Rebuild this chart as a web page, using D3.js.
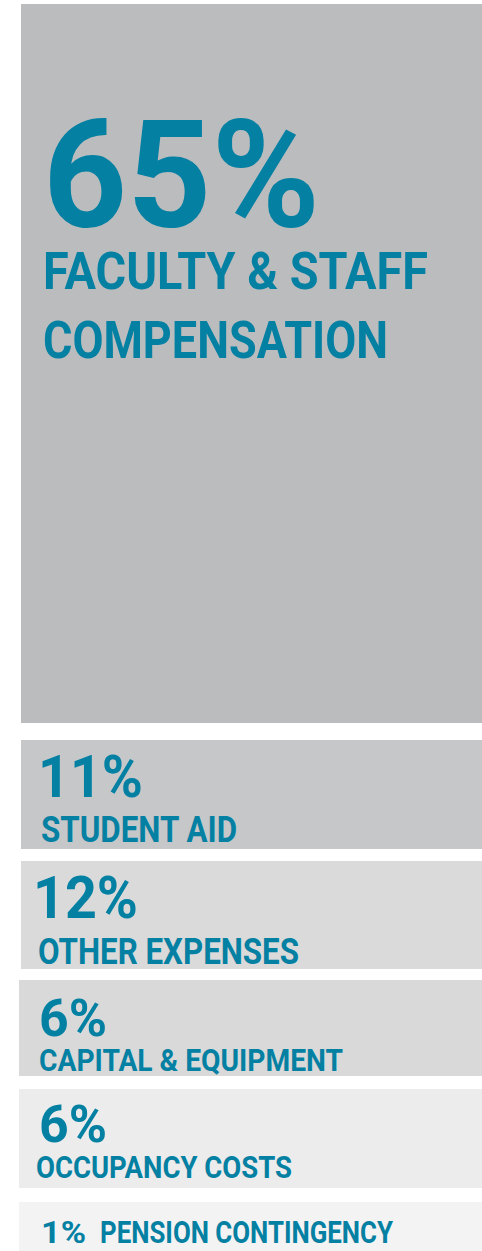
<!DOCTYPE html>
<html><head><meta charset="utf-8">
<script src="https://cdn.jsdelivr.net/npm/d3@7"></script>
<style>html,body{margin:0;padding:0;background:#fff;overflow:hidden}</style>
</head><body>
<svg id="chart" width="482" height="1251"></svg>
<script>
// ---- data ----
const categories = ["Faculty & Staff Compensation","Student Aid","Other Expenses","Capital & Equipment","Occupancy Costs","Pension Contingency"];
const percents = [65, 11, 12, 6, 6, 1];
const labelLines = [["FACULTY & STAFF","COMPENSATION"],["STUDENT AID"],["OTHER EXPENSES"],["CAPITAL & EQUIPMENT"],["OCCUPANCY COSTS"],["PENSION CONTINGENCY"]];

// ---- layout (not data) ----
const blockTop    = [4, 740, 861, 980, 1089, 1202];
const blockBottom = [723, 849, 969, 1076, 1188, 1260];
const blockLeft   = [21, 21, 21, 19, 19, 19];
const fills = ["#bbbcbe","#c6c7c9","#dadada","#d9d9d9","#ececec","#f3f3f3"];
// per block: [pctX, pctBaseline, pctSize, pctWidth, labelX, labelBaseline, labelSize, labelWidths, lineGap]
const textLayout = [
  {px:43, py:227, ps:150, pw:277, lx:43, ly:289, ls:52, lw:[385,345], gap:69},
  {px:38, py:797, ps:60, pw:105, lx:41, ly:842, ls:36, lw:[196]},
  {px:33, py:918, ps:60, pw:105, lx:38, ly:964, ls:37, lw:[261]},
  {px:39, py:1036, ps:52, pw:68, lx:39, ly:1071, ls:32, lw:[304]},
  {px:39, py:1142, ps:52, pw:68, lx:36, ly:1178, ls:32, lw:[256]},
  {px:41, py:1243, ps:32, pw:45, lx:100, ly:1243, ls:32, lw:[293]}
];
const textColor = "#0480a3";
const fontFam = "'Liberation Sans Narrow','Roboto','Liberation Sans',sans-serif";

const svg = d3.select("#chart");
const W = 482;

const yTop = d3.scaleOrdinal().domain(categories).range(blockTop);
const yBot = d3.scaleOrdinal().domain(categories).range(blockBottom);
const xLeft = d3.scaleOrdinal().domain(categories).range(blockLeft);
const color = d3.scaleOrdinal().domain(categories).range(fills);
const pctFmt = d => d3.format("d")(d) + "%";

const rows = categories.map((c,i)=>({cat:c, pct:percents[i], lines:labelLines[i], t:textLayout[i]}));

const g = svg.selectAll("g.block").data(rows).join("g").attr("class","block");

g.append("rect")
  .attr("x", d=>xLeft(d.cat))
  .attr("y", d=>yTop(d.cat))
  .attr("width", d=>W - xLeft(d.cat))
  .attr("height", d=>yBot(d.cat) - yTop(d.cat))
  .attr("fill", d=>color(d.cat));

g.append("text")
  .attr("x", d=>d.t.px)
  .attr("y", d=>d.t.py)
  .attr("font-family", fontFam)
  .attr("font-weight", "bold")
  .attr("font-size", d=>d.t.ps)
  .attr("fill", textColor)
  .attr("textLength", d=>d.t.pw)
  .attr("lengthAdjust", "spacingAndGlyphs")
  .text(d=>pctFmt(d.pct));

g.each(function(d){
  const sel = d3.select(this);
  d.lines.forEach((line, j)=>{
    sel.append("text")
      .attr("x", d.t.lx)
      .attr("y", d.t.ly + j*(d.t.gap||0))
      .attr("font-family", fontFam)
      .attr("font-weight", "bold")
      .attr("font-size", d.t.ls)
      .attr("fill", textColor)
      .attr("textLength", d.t.lw[j])
      .attr("lengthAdjust", "spacingAndGlyphs")
      .text(line);
  });
});
</script>
</body></html>
